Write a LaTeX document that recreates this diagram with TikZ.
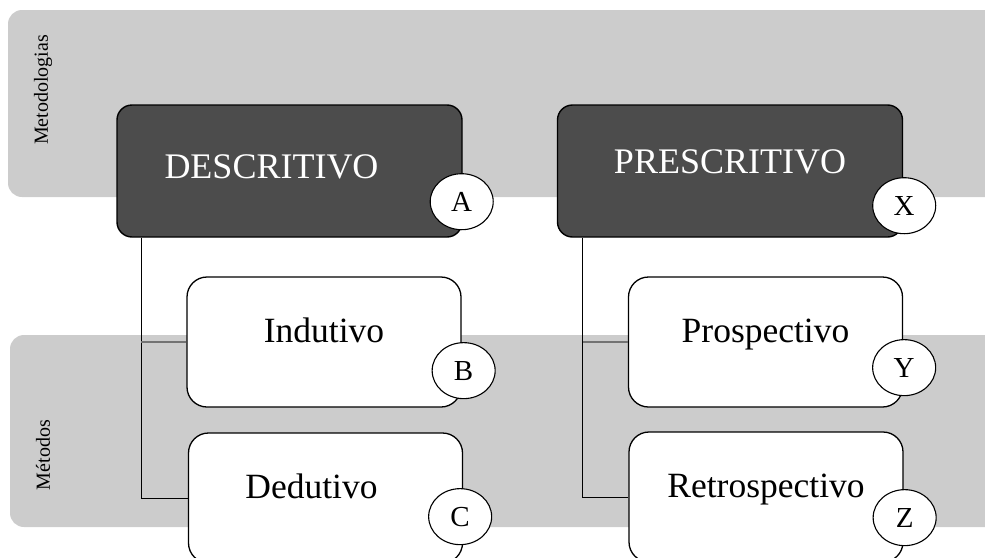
\documentclass[tikz,border=0pt]{standalone}
\usepackage{fontspec}
\setmainfont{Liberation Serif}
\usepackage{tikz}
\usetikzlibrary{shapes.geometric}
\usetikzlibrary{positioning}

\begin{document}
\begin{tikzpicture}[
  x=1pt, y=-1pt,
  band/.style = {fill=black!20, draw=none, rounded corners=14pt},
  bandlabel/.style = {rotate=90, font=\fontsize{20}{22}\selectfont},
  methodology/.style = {draw=black, line width=1.4pt, fill=black!70, rounded corners=15pt,
    minimum width=345pt, minimum height=132pt, inner sep=0pt},
  method/.style = {draw=black, line width=1.3pt, fill=white, rounded corners=20pt,
    minimum width=274pt, minimum height=130pt, inner sep=0pt},
  headtext/.style = {anchor=base, text=white, font=\fontsize{36}{40}\selectfont},
  bodytext/.style = {anchor=base, font=\fontsize{35.5}{40}\selectfont},
  tag/.style = {draw=black, line width=1.1pt, fill=white, ellipse, minimum width=63pt,
    minimum height=56pt, inner sep=0pt, font=\fontsize{29}{32}\selectfont},
  stem/.style = {draw=black, line width=0.9pt},
  branch/.style = {draw=black!55, line width=1.2pt}
  ]
	\clip (0,0) rectangle (985,557);

	% fundos
	\fill[band] (8,10) rectangle (1010,197);
	\fill[band] (10,335) rectangle (1010,527);
	\node[bandlabel] (lbmetodologias) at (43,90) {Metodologias};
	\node[bandlabel] (lbmetodos) at (43,455) {Métodos};

	% metodologias
	\node[methodology] (desc) at (289.5,171) {};
	\node[methodology] (presc) at (730,171) {};
	\node[headtext] (desct) at ([xshift=-18pt,yshift=-7pt]desc.center) {DESCRITIVO};
	\node[headtext] (presct) at ([yshift=-2pt]presc.center) {PRESCRITIVO};

	% metodos
	\node[method] (indu) at (324,342) {};
	\node[method] (dedu) at (325.5,498) {};
	\node[method] (prosp) at (765.5,342) {};
	\node[method] (retro) at (766,497) {};
	\node[bodytext] (indut) at (indu.center) {Indutivo};
	\node[bodytext] (dedut) at ([xshift=-14pt]dedu.center) {Dedutivo};
	\node[bodytext] (prospt) at (prosp.center) {Prospectivo};
	\node[bodytext] (retrot) at (retro.center) {Retrospectivo};

	% ligacoes
	\coordinate (descstem) at ([xshift=25pt]desc.south west);
	\coordinate (prescstem) at ([xshift=26pt]presc.south west);
	\draw[stem] (descstem) |- (dedu.west);
	\draw[branch] (descstem |- indu.west) -- (indu.west);
	\draw[stem] (prescstem) |- (retro.west);
	\draw[branch] (prescstem |- prosp.west) -- (prosp.west);

	% marcas
	\node[tag] (tga) at ([xshift=-1pt,yshift=36pt]desc.south east) {A};
	\node[tag] (tgx) at ([xshift=1pt,yshift=32pt]presc.south east) {X};
	\node[tag] (tgb) at ([xshift=2pt,yshift=37pt]indu.south east) {B};
	\node[tag] (tgy) at ([xshift=1pt,yshift=40pt]prosp.south east) {Y};
	\node[tag] (tgc) at ([xshift=-3pt,yshift=47pt]dedu.south east) {C};
	\node[tag] (tgz) at ([xshift=1pt,yshift=45pt]retro.south east) {Z};

\end{tikzpicture}
\end{document}
